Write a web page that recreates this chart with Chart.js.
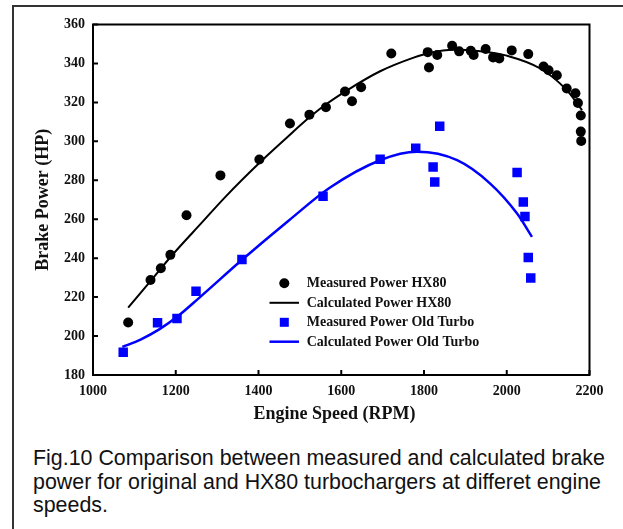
<!DOCTYPE html>
<html>
<head>
<meta charset="utf-8">
<script src="https://cdn.jsdelivr.net/npm/chart.js@4.4.1/dist/chart.umd.min.js"></script>
<style>
    html, body { margin: 0; padding: 0; background: #fff; }
    body { width: 623px; height: 529px; position: relative; overflow: hidden; }
    #frame {
        position: absolute; left: 12px; top: 5px; width: 640px; height: 560px;
        border-left: 2px solid #333; border-top: 2px solid #333;
    }
    #wrap { position: absolute; left: 0; top: 0; width: 623px; height: 430px; }
    #caption {
        position: absolute; left: 33px; top: 447px; width: 585px;
        font-family: "Liberation Sans", Arial, sans-serif; font-size: 21.4px;
        line-height: 23.6px; color: #111; white-space: nowrap;
    }
</style>
</head>
<body>
<div id="frame"></div>
<div id="wrap"><canvas id="chartPower"></canvas></div>
<div id="caption">Fig.10 Comparison between measured and calculated brake<br>power for original and HX80 turbochargers at differet engine<br>speeds.</div>
<script>
// =====================================
// DADOS
// =====================================

// Measured Power HX80
const rpmHX80 = [1085, 1139, 1164, 1187, 1226, 1308, 1402, 1476, 1523, 1563, 1609, 1626, 1648,
    1721, 1809, 1812, 1832, 1868, 1885, 1913, 1920, 1949, 1967, 1982, 2012, 2052,
    2089, 2101, 2121, 2145, 2166, 2172, 2179, 2179, 2180];
const powerHX80 = [207, 228.8, 234.8, 241.7, 262, 282.5, 290.7, 309.2, 313.7, 317.5, 325.6, 320.6, 327.8,
    345.1, 345.8, 337.9, 344.3, 349.1, 346.2, 346.5, 344.3, 347.4, 343.1, 342.5, 346.7, 344.8,
    338.4, 336.5, 333.9, 327.1, 324.7, 319.7, 313.3, 305, 300.2];

// Calculated Power HX80
const rpmCalcHX80 = [1085, 1140, 1189, 1264, 1320, 1405, 1474, 1501, 1560, 1614, 1694,
    1775, 1815, 1871, 1936, 2000, 2081, 2145, 2182];
const powerCalcHX80 = [214.6, 228.5, 241, 258.5, 271.5, 289.5, 303, 308.3, 318.5, 326.2, 336,
    343, 345.5, 347, 346.3, 344, 337.4, 326.3, 316];

// Measured Power Old Turbo
const rpmOld = [1073, 1156, 1203, 1249, 1360, 1556, 1694, 1780, 1838, 1822, 1826,
    2025, 2040, 2044, 2052, 2058];
const powerOld = [191.7, 206.8, 209, 223, 239.3, 271.8, 290.8, 296.4, 307.8, 286.8, 279.1,
    284, 268.9, 261.4, 240.3, 229.8];

// Calculated Power Old Turbo
const rpmCalcOld = [1071, 1115, 1160, 1204, 1256, 1361, 1474, 1573, 1694, 1783, 1880, 1960, 2025, 2061];
const powerCalcOld = [194.4, 198.2, 203.4, 210, 219.5, 239.3, 259.5, 276.3, 290.3, 294.6, 290.3, 278.3, 262.9, 250.9];

const xTicks = [1000, 1200, 1400, 1600, 1800, 2000, 2200];
const yTicks = [180, 200, 220, 240, 260, 280, 300, 320, 340, 360];

const seriesLabels = [
    'Measured Power HX80',
    'Calculated Power HX80',
    'Measured Power Old Turbo',
    'Calculated Power Old Turbo'
];

const toPoints = (xs, ys) => xs.map((x, i) => ({ x: x, y: ys[i] }));

const serifBold = (size) => ({ family: '"Liberation Serif", "Times New Roman", serif', size: size, weight: 'bold' });

// moldura do gráfico, marcas internas e legenda
const framePlugin = {
    id: 'framePlugin',
    afterDraw(chart) {
        const { ctx, chartArea: a, scales } = chart;
        ctx.save();
        ctx.strokeStyle = '#000';
        ctx.lineWidth = 2;
        ctx.strokeRect(a.left, a.top, a.right - a.left, a.bottom - a.top);

        // ticks para dentro
        ctx.beginPath();
        scales.x.ticks.forEach((t, i) => {
            const px = scales.x.getPixelForTick(i);
            ctx.moveTo(px, a.bottom);
            ctx.lineTo(px, a.bottom - 5);
        });
        scales.y.ticks.forEach((t, i) => {
            const py = scales.y.getPixelForTick(i);
            ctx.moveTo(a.left, py);
            ctx.lineTo(a.left + 5, py);
        });
        ctx.stroke();

        // legenda
        const rowY = [283.3, 302.8, 322.3, 341.7];
        ctx.font = 'bold 14px "Liberation Serif", "Times New Roman", serif';
        ctx.textBaseline = 'middle';
        ctx.textAlign = 'left';
        chart.data.datasets.forEach((ds, i) => {
            const y = rowY[i];
            if (ds.showLine) {
                ctx.strokeStyle = ds.borderColor;
                ctx.lineWidth = ds.borderWidth;
                ctx.beginPath();
                ctx.moveTo(269.5, y);
                ctx.lineTo(299, y);
                ctx.stroke();
            } else {
                ctx.fillStyle = ds.backgroundColor;
                if (ds.pointStyle === 'rect') {
                    ctx.fillRect(284.3 - 4.5, y - 4.5, 9, 9);
                } else {
                    ctx.beginPath();
                    ctx.arc(284.3, y, 5, 0, Math.PI * 2);
                    ctx.fill();
                }
            }
            ctx.fillStyle = '#111';
            ctx.fillText(ds.label, 306.7, y + 0.5);
        });
        ctx.restore();
    }
};

function createPowerChart(id) {
    const ctx = document.getElementById(id);
    if (!ctx) return;

    return new Chart(ctx, {
        type: 'scatter',
        data: {
            datasets: [{
                label: seriesLabels[0],
                data: toPoints(rpmHX80, powerHX80),
                backgroundColor: '#000',
                borderColor: '#000',
                pointStyle: 'circle',
                pointRadius: 5,
                pointBorderWidth: 0,
                showLine: false
            }, {
                label: seriesLabels[1],
                data: toPoints(rpmCalcHX80, powerCalcHX80),
                borderColor: '#000',
                backgroundColor: '#000',
                borderWidth: 2,
                pointRadius: 0,
                showLine: true,
                cubicInterpolationMode: 'monotone'
            }, {
                label: seriesLabels[2],
                data: toPoints(rpmOld, powerOld),
                backgroundColor: '#0000ff',
                borderColor: '#0000ff',
                pointStyle: 'rect',
                pointRadius: 6.7,
                pointBorderWidth: 0,
                showLine: false
            }, {
                label: seriesLabels[3],
                data: toPoints(rpmCalcOld, powerCalcOld),
                borderColor: '#0000ff',
                backgroundColor: '#0000ff',
                borderWidth: 2.5,
                pointRadius: 0,
                showLine: true,
                cubicInterpolationMode: 'monotone'
            }]
        },
        options: {
            responsive: false,
            animation: false,
            layout: { padding: { left: 0, right: 33.5, top: 24.5, bottom: 0 } },
            plugins: {
                legend: { display: false },
                tooltip: { enabled: false }
            },
            scales: {
                x: {
                    type: 'linear',
                    min: 1000,
                    max: 2200,
                    afterBuildTicks: (s) => { s.ticks = xTicks.map(v => ({ value: v })); },
                    afterFit: (s) => { s.height = 55; },
                    grid: { display: false, drawTicks: false },
                    border: { display: true, color: '#000', width: 2 },
                    ticks: {
                        color: '#111', font: serifBold(14), padding: 8, maxRotation: 0,
                        callback: (v) => String(v)
                    },
                    title: {
                        display: true,
                        // espaços no fim deslocam o título um pouco para a esquerda, como na figura
                        text: 'Engine Speed (RPM)\u00a0\u00a0\u00a0',
                        color: '#111',
                        font: serifBold(18),
                        padding: { top: 0, bottom: 4.4 }
                    }
                },
                y: {
                    type: 'linear',
                    min: 180,
                    max: 360,
                    afterBuildTicks: (s) => { s.ticks = yTicks.map(v => ({ value: v })); },
                    afterFit: (s) => { s.width = 93; },
                    grid: { display: false, drawTicks: false },
                    border: { display: true, color: '#000', width: 2 },
                    ticks: { color: '#111', font: serifBold(14), padding: 8, callback: (v) => String(v) },
                    title: {
                        display: true,
                        text: 'Brake Power (HP)',
                        color: '#111',
                        font: serifBold(18),
                        padding: { top: 33, bottom: 0 }
                    }
                }
            }
        },
        plugins: [framePlugin]
    });
}

const cv = document.getElementById('chartPower');
cv.width = 623;
cv.height = 430;
cv.style.width = '623px';
cv.style.height = '430px';
createPowerChart('chartPower');
</script>
</body>
</html>
